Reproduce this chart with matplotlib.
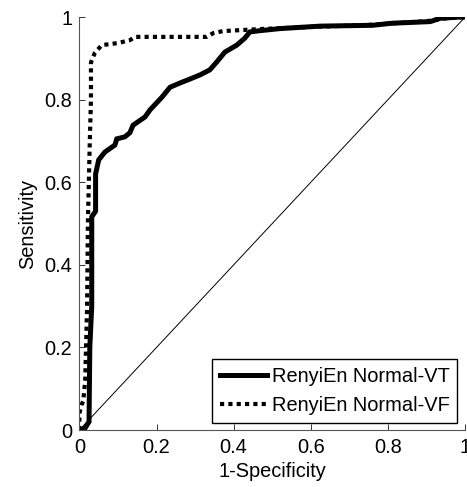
import numpy as np
from matplotlib import pyplot as plt

plt.rcParams['font.family'] = ['Liberation Sans', 'DejaVu Sans']

# ROC points (1-specificity, sensitivity)
vt_fpr = [0.0, 0.005, 0.015, 0.025, 0.027, 0.032, 0.032, 0.042, 0.042, 0.05, 0.066,
          0.092, 0.097, 0.118, 0.131, 0.139, 0.17, 0.183, 0.19, 0.214, 0.235,
          0.26, 0.287, 0.313, 0.338, 0.356, 0.377, 0.408, 0.429, 0.442, 0.468,
          0.52, 0.624, 0.76, 0.81, 0.91, 0.935, 0.987, 1.0]
vt_tpr = [0.0, 0.0, 0.005, 0.02, 0.2, 0.3, 0.516, 0.53, 0.62, 0.654, 0.673,
          0.69, 0.705, 0.71, 0.72, 0.738, 0.758, 0.775, 0.782, 0.806, 0.83,
          0.84, 0.85, 0.86, 0.872, 0.891, 0.915, 0.932, 0.949, 0.964, 0.967,
          0.972, 0.978, 0.98, 0.985, 0.989, 0.997, 1.0, 1.0]

vf_fpr = [0.0, 0.0, 0.005, 0.01, 0.015, 0.02, 0.022, 0.025, 0.027, 0.03, 0.03,
          0.04, 0.058, 0.1, 0.131, 0.144, 0.33, 0.347, 0.372, 0.47, 0.6,
          0.75, 0.9, 0.95, 1.0]
vf_tpr = [0.0, 0.04, 0.06, 0.07, 0.12, 0.3, 0.5, 0.62, 0.7, 0.8, 0.89,
          0.913, 0.932, 0.937, 0.944, 0.952, 0.952, 0.961, 0.966, 0.971, 0.976,
          0.981, 0.99, 0.997, 1.0]

ticks = [0, 0.2, 0.4, 0.6, 0.8, 1]
tick_labels = ['0', '0.2', '0.4', '0.6', '0.8', '1']

fs = 14.4

fig = plt.figure(figsize=(4.67, 4.87), dpi=100)
ax = fig.add_axes([0.170, 0.117, 0.826, 0.848])

ax.plot(vt_fpr, vt_tpr, color='black', linewidth=3.6, solid_joinstyle='miter',
        label='RenyiEn Normal-VT')
ax.plot(vf_fpr, vf_tpr, color='black', linewidth=3.0, linestyle=(0, (1, 1)),
        dash_capstyle='butt', label='RenyiEn Normal-VF')
ax.plot([0, 1], [0, 1], color='black', linewidth=0.7)

ax.set_xlim(0, 1)
ax.set_ylim(0, 1)
ax.set_xticks(ticks)
ax.set_xticklabels(tick_labels)
ax.set_yticks(ticks)
ax.set_yticklabels(tick_labels)
ax.tick_params(direction='in', length=4, width=0.7, labelsize=fs, colors='#333333',
               labelcolor='black')
ax.tick_params(axis='x', pad=5.5)
ax.tick_params(axis='y', pad=5)

for side in ['top', 'right']:
    ax.spines[side].set_visible(False)
for side in ['left', 'bottom']:
    ax.spines[side].set_color('#555555')
    ax.spines[side].set_linewidth(0.8)

ax.set_xlabel('1-Specificity', fontsize=fs, labelpad=4)
ax.set_ylabel('Sensitivity', fontsize=fs, labelpad=5)

leg = ax.legend(loc='lower right', bbox_to_anchor=(0.98, 0.017), fontsize=fs,
                fancybox=False, edgecolor='black', framealpha=1,
                handlelength=2.35, handletextpad=0.25, borderpad=0.4,
                labelspacing=0.5, borderaxespad=0)
leg.get_frame().set_linewidth(1.0)

plt.savefig('out.png', dpi=100)
